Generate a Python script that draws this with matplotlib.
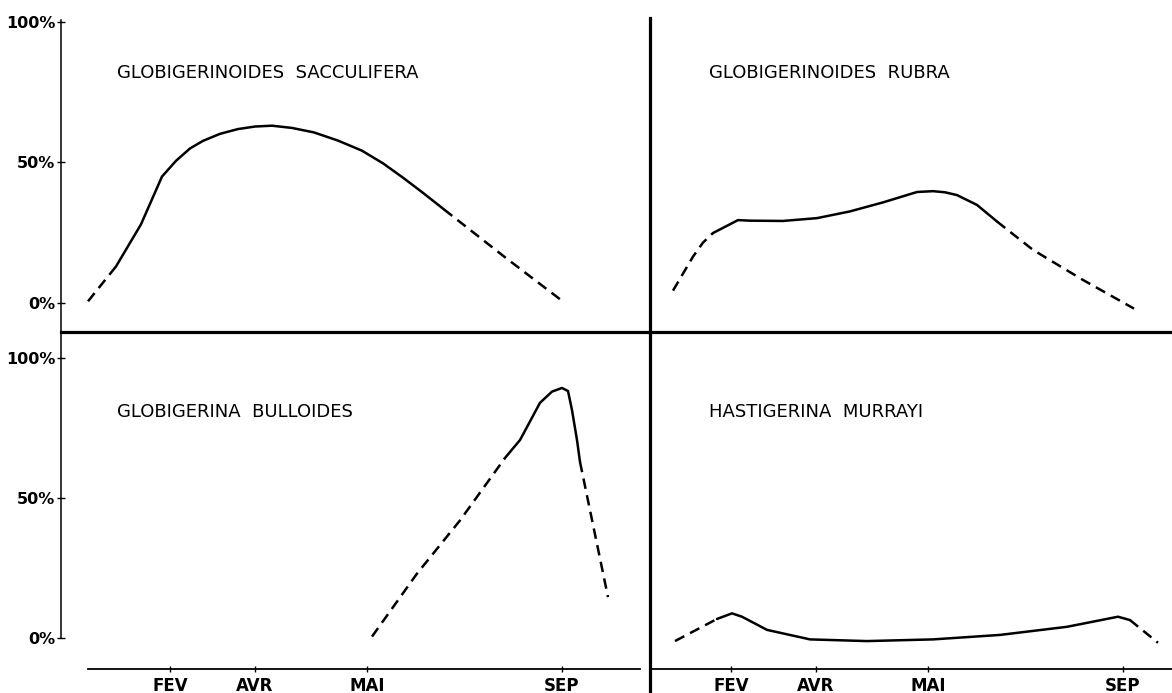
import matplotlib
matplotlib.use("Agg")
import matplotlib.pyplot as plt

# sampling months on the time axis (positions)
months = ["FEV", "AVR", "MAI", "SEP"]
month_pos = [0, 85, 197, 392]

# Globigerinoides sacculifera (% of sample)
sacc_x = [-82, -54, -29, -8, 6, 20, 33, 50, 68, 85, 102, 122, 144, 168, 192, 213, 233, 253, 274, 336, 395]
sacc_y = [0.6, 13, 28, 45, 50.6, 55, 57.7, 60.2, 61.9, 62.8, 63.1, 62.3, 60.7, 57.8, 54.2, 49.7, 44.6, 39.2, 33.3, 16, 0]
sacc_solid = (1, 18)

# Globigerinoides rubra
rubra_x = [-58, -38, -28, -18, 7, 19, 52, 86, 119, 152, 186, 202, 214, 226, 246, 266, 302, 352, 403]
rubra_y = [4.4, 16.5, 21.5, 24.9, 29.5, 29.3, 29.2, 30.2, 32.6, 35.8, 39.5, 39.8, 39.4, 38.4, 34.9, 29, 18.9, 8.2, -2]
rubra_solid = (3, 15)

# Globigerina bulloides
bull_x = [202, 247, 290, 335, 350, 370, 382, 392, 398, 402, 407, 410, 438]
bull_y = [0.5, 23, 42, 64.3, 70.7, 84, 88, 89.3, 88.2, 81.4, 70.7, 62.9, 14.6]
bull_solid = (3, 11)

# Hastigerina murrayi
murr_x = [-56, -14, 1, 11, 36, 79, 136, 202, 269, 336, 387, 399, 427]
murr_y = [-1.1, 6.8, 8.8, 7.6, 2.9, -0.5, -1.1, -0.5, 1.1, 4, 7.6, 6.4, -1.7]
murr_solid = (1, 11)

titles = ["GLOBIGERINOIDES  SACCULIFERA", "GLOBIGERINOIDES  RUBRA",
          "GLOBIGERINA  BULLOIDES", "HASTIGERINA  MURRAYI"]

W, H = 1172, 693
fig = plt.figure(figsize=(W / 100, H / 100), dpi=100)
plt.rcParams['font.family'] = ['DejaVu Sans']


def box(x0, x1, y_top, y_bot):
    return [x0 / W, (H - y_bot) / H, (x1 - x0) / W, (y_bot - y_top) / H]


ax_tl = fig.add_axes(box(61, 650, 22, 303))
ax_tr = fig.add_axes(box(650, 1172, 22, 303))
ax_bl = fig.add_axes(box(61, 650, 358, 638))
ax_br = fig.add_axes(box(650, 1172, 358, 638))

series = [
    (ax_tl, sacc_x, sacc_y, sacc_solid),
    (ax_tr, rubra_x, rubra_y, rubra_solid),
    (ax_bl, bull_x, bull_y, bull_solid),
    (ax_br, murr_x, murr_y, murr_solid),
]

for i, (ax, xs, ys, (a, b)) in enumerate(series):
    ax.set_ylim(0, 100)
    if ax in (ax_tl, ax_bl):
        ax.set_xlim(-109, 480)
    else:
        ax.set_xlim(-81, 441)
    ax.patch.set_visible(False)
    for s in ax.spines.values():
        s.set_visible(False)
    kw = dict(color="black", lw=1.8, clip_on=False, solid_capstyle="round",
              solid_joinstyle="round")
    ax.plot(xs[:a + 1], ys[:a + 1], dashes=(4.2, 2.6), **kw)
    ax.plot(xs[a:b + 1], ys[a:b + 1], **kw)
    ax.plot(xs[b:], ys[b:], dashes=(4.2, 2.6), **kw)
    ty = 0.818 if i < 2 else 0.807
    tx = 0.095 if i % 2 == 0 else 0.113
    ax.text(tx, ty, titles[i], transform=ax.transAxes, fontsize=13,
            va="center", ha="left")
    ax.set_xticks([])
    ax.set_yticks([])

# left percentage axes
for ax, lo, hi in [(ax_tl, -10.3, 100.7), (ax_bl, 0, 109.3)]:
    sp = ax.spines['left']
    sp.set_visible(True)
    sp.set_bounds(lo, hi)
    sp.set_linewidth(1.1)
    ax.set_yticks([0, 50, 100])
    ax.set_yticklabels(["0%", "50%", "100%"], fontsize=11.5, fontweight="bold")
    ax.tick_params(axis="y", direction="inout", length=6, width=1, pad=1)

# central vertical divider
for ax, lo, hi in [(ax_tr, -10.3, 101.4), (ax_br, -19.6, 109.3)]:
    sp = ax.spines['left']
    sp.set_visible(True)
    sp.set_bounds(lo, hi)
    sp.set_linewidth(2.3)

# horizontal divider between the two rows
for ax, lo, hi in [(ax_tl, -109, 480), (ax_tr, -81, 441)]:
    sp = ax.spines['bottom']
    sp.set_visible(True)
    sp.set_position(('data', -10.3))
    sp.set_bounds(lo, hi)
    sp.set_linewidth(2.3)

# time axis under the lower row
for ax, lo, hi in [(ax_bl, -82, 470), (ax_br, -81, 441)]:
    sp = ax.spines['bottom']
    sp.set_visible(True)
    sp.set_position(('data', -11.1))
    sp.set_bounds(lo, hi)
    sp.set_linewidth(1.3)
    ax.set_xticks(month_pos)
    ax.set_xticklabels(months, fontsize=12, fontweight="bold")
    ax.tick_params(axis="x", direction="inout", length=5, width=1, pad=3)

fig.savefig("out.png", dpi=100, facecolor="white")
